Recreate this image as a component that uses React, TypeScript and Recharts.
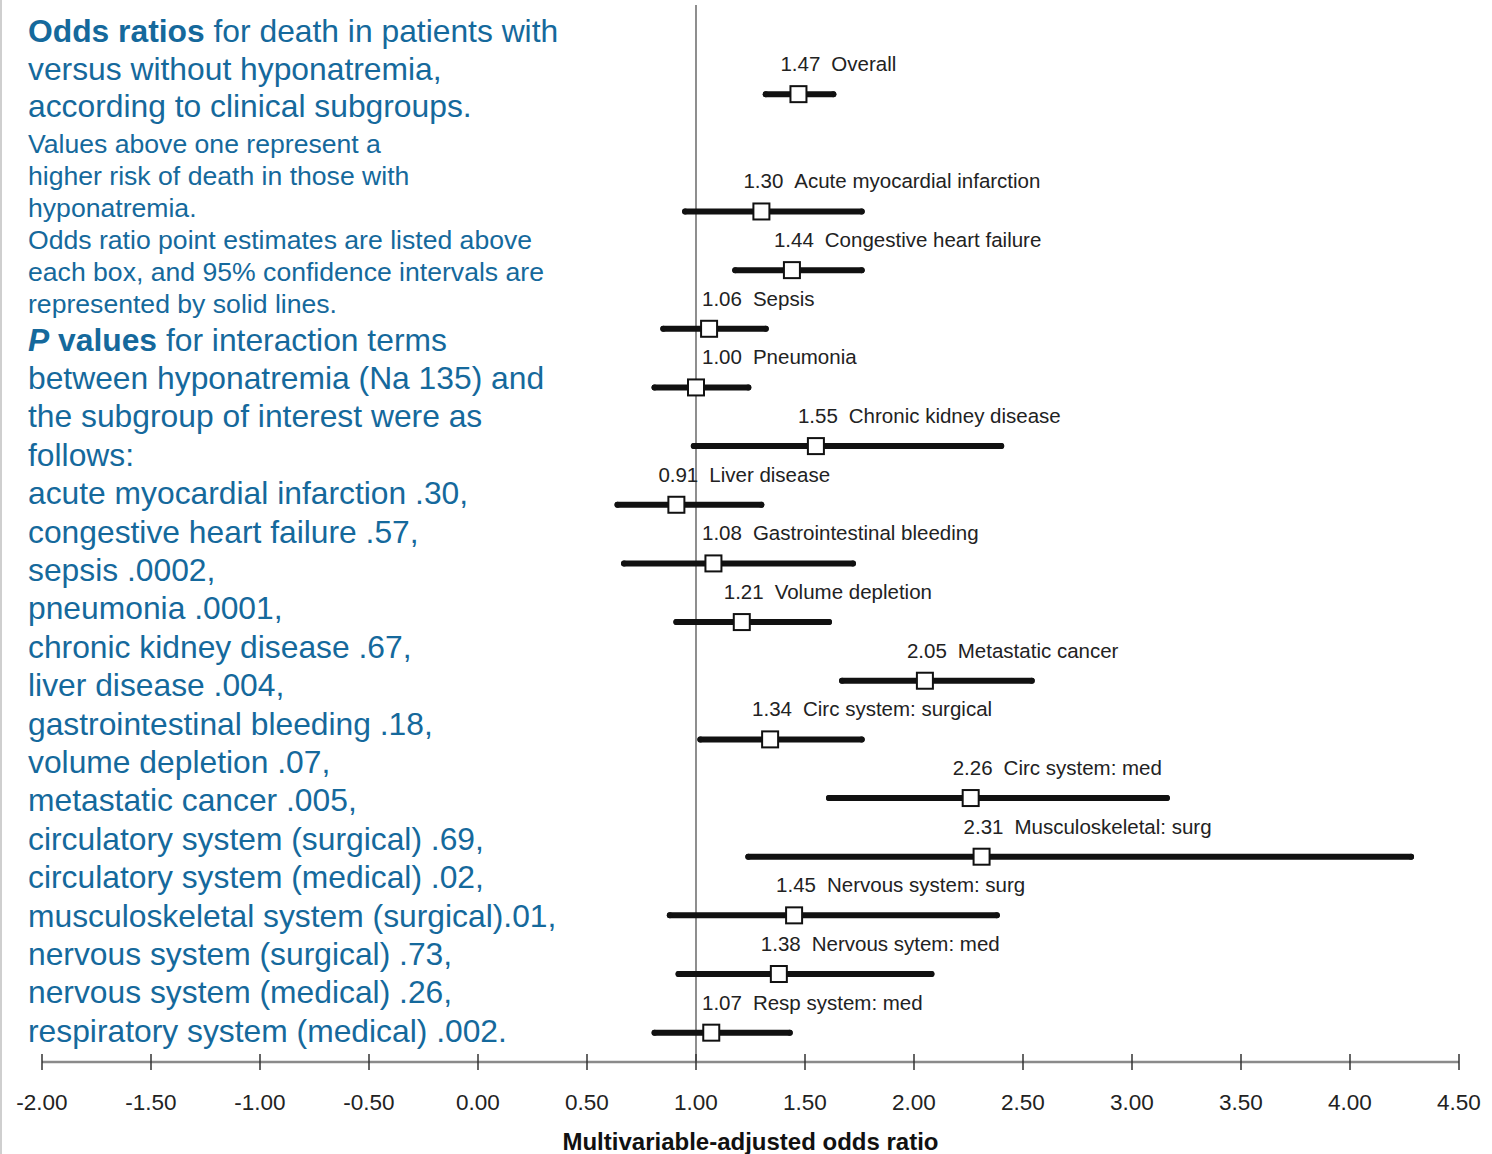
import React from 'react';
import { ScatterChart, Scatter, XAxis, YAxis, ErrorBar, ReferenceLine, Label } from 'recharts';

const subgroups = [
  'Overall',
  'Acute myocardial infarction',
  'Congestive heart failure',
  'Sepsis',
  'Pneumonia',
  'Chronic kidney disease',
  'Liver disease',
  'Gastrointestinal bleeding',
  'Volume depletion',
  'Metastatic cancer',
  'Circ system: surgical',
  'Circ system: med',
  'Musculoskeletal: surg',
  'Nervous system: surg',
  'Nervous sytem: med',
  'Resp system: med',
];
const rowSlots = [0, 2, 3, 4, 5, 6, 7, 8, 9, 10, 11, 12, 13, 14, 15, 16];
const oddsRatios = [1.47, 1.3, 1.44, 1.06, 1.0, 1.55, 0.91, 1.08, 1.21, 2.05, 1.34, 2.26, 2.31, 1.45, 1.38, 1.07];
const ciLower = [1.32, 0.95, 1.18, 0.85, 0.81, 0.99, 0.64, 0.67, 0.91, 1.67, 1.02, 1.61, 1.24, 0.88, 0.92, 0.81];
const ciUpper = [1.63, 1.76, 1.76, 1.32, 1.24, 2.4, 1.3, 1.72, 1.61, 2.54, 1.76, 3.16, 4.28, 2.38, 2.08, 1.43];
const xTicks = [-2, -1.5, -1, -0.5, 0, 0.5, 1, 1.5, 2, 2.5, 3, 3.5, 4, 4.5];

const introLines = ['versus without hyponatremia,', 'according to clinical subgroups.'];
const noteLines = [
  'Values above one represent a',
  'higher risk of death in those with',
  'hyponatremia.',
  'Odds ratio point estimates are listed above',
  'each box, and 95% confidence intervals are',
  'represented by solid lines.',
];
const pIntroLines = ['between hyponatremia (Na 135) and', 'the subgroup of interest were as', 'follows:'];
const pValueLines = [
  'acute myocardial infarction .30,',
  'congestive heart failure .57,',
  'sepsis .0002,',
  'pneumonia .0001,',
  'chronic kidney disease .67,',
  'liver disease .004,',
  'gastrointestinal bleeding .18,',
  'volume depletion .07,',
  'metastatic cancer .005,',
  'circulatory system (surgical) .69,',
  'circulatory system (medical) .02,',
  'musculoskeletal system (surgical).01,',
  'nervous system (surgical) .73,',
  'nervous system (medical) .26,',
  'respiratory system (medical) .002.',
];

const rows = subgroups.map((name, i) => ({
  name,
  slot: rowSlots[i],
  or: oddsRatios[i],
  err: [oddsRatios[i] - ciLower[i], ciUpper[i] - oddsRatios[i]],
}));

const FONT = '"Liberation Sans", Arial, Helvetica, sans-serif';
const BLUE = '#15699c';
const CHART_W = 1492;
const MARGIN_L = 42;
const MARGIN_R = 33;
const PX_PER_UNIT = (CHART_W - MARGIN_L - MARGIN_R) / 6.5;

const BoxShape = (props: any) => {
  const { cx, cy, payload } = props;
  // pixel of the reference (OR = 1) line, derived from the point's own scale position
  const refPx = cx - (payload.or - 1) * PX_PER_UNIT;
  let labelX = cx - 18;
  if (cx >= refPx - 1 && labelX < refPx + 6) labelX = refPx + 6;
  return (
    <g>
      <rect x={cx - 8} y={cy - 8} width={16} height={16} fill="#fff" stroke="#111" strokeWidth={2} />
      <text x={labelX} y={cy - 23} fontSize={20.5} fill="#222" fontFamily={FONT}>
        <tspan>{payload.or.toFixed(2)}</tspan>
        <tspan dx={11}>{payload.name}</tspan>
      </text>
    </g>
  );
};

const EmptyShape = () => <g />;

const AxisTick = (props: any) => {
  const { x, y, payload } = props;
  return (
    <g>
      <line x1={x} x2={x} y1={y - 16} y2={y} stroke="#333" strokeWidth={1.5} />
      <text x={x} y={y + 40} textAnchor="middle" fontSize={22.5} fill="#222" fontFamily={FONT}>
        {Number(payload.value).toFixed(2)}
      </text>
    </g>
  );
};

export default function App() {
  return (
    <div
      style={{
        position: 'absolute',
        top: 0,
        left: 0,
        width: 1492,
        height: 1154,
        background: '#fff',
        fontFamily: FONT,
      }}
    >
      <div style={{ position: 'absolute', left: 0, top: 0, width: 2, height: 1154, background: '#cfcfcf' }} />
      <ScatterChart width={CHART_W} height={1154} margin={{ top: 5, right: MARGIN_R, bottom: 0, left: MARGIN_L }}>
        <XAxis
          type="number"
          dataKey="or"
          domain={[-2, 4.5]}
          ticks={xTicks}
          interval={0}
          height={92}
          tickSize={8}
          tickMargin={0}
          tickLine={false}
          tick={<AxisTick />}
          axisLine={{ stroke: '#8a8a8a', strokeWidth: 2.5 }}
          allowDataOverflow
        >
          <Label
            value="Multivariable-adjusted odds ratio"
            position="insideBottom"
            offset={4}
            style={{ fontSize: 24, fontWeight: 'bold', fill: '#111', fontFamily: FONT }}
          />
        </XAxis>
        <YAxis type="number" dataKey="slot" domain={[-1.52, 16.5]} reversed hide allowDataOverflow />
        <ReferenceLine x={1} stroke="#444" strokeWidth={1.2} />
        <Scatter data={rows} shape={<EmptyShape />} isAnimationActive={false}>
          <ErrorBar dataKey="err" direction="x" width={0} stroke="#111" strokeWidth={6} strokeLinecap="round" />
        </Scatter>
        <Scatter data={rows} shape={<BoxShape />} isAnimationActive={false} />
      </ScatterChart>
      <div style={{ position: 'absolute', left: 28, top: 13.2, color: BLUE, fontSize: 31.8, lineHeight: '37.5px', whiteSpace: 'nowrap' }}>
        <div>
          <b>Odds ratios</b> for death in patients with
        </div>
        {introLines.map((l) => (
          <div key={l}>{l}</div>
        ))}
      </div>
      <div style={{ position: 'absolute', left: 28, top: 128, color: BLUE, fontSize: 26.6, lineHeight: '32px', whiteSpace: 'nowrap' }}>
        {noteLines.map((l) => (
          <div key={l}>{l}</div>
        ))}
      </div>
      <div style={{ position: 'absolute', left: 28, top: 320.5, color: BLUE, fontSize: 31.8, lineHeight: '38.4px', whiteSpace: 'nowrap' }}>
        <div>
          <b>
            <i>P</i> values
          </b>{' '}
          for interaction terms
        </div>
        {pIntroLines.map((l) => (
          <div key={l}>{l}</div>
        ))}
        {pValueLines.map((l) => (
          <div key={l}>{l}</div>
        ))}
      </div>
    </div>
  );
}
